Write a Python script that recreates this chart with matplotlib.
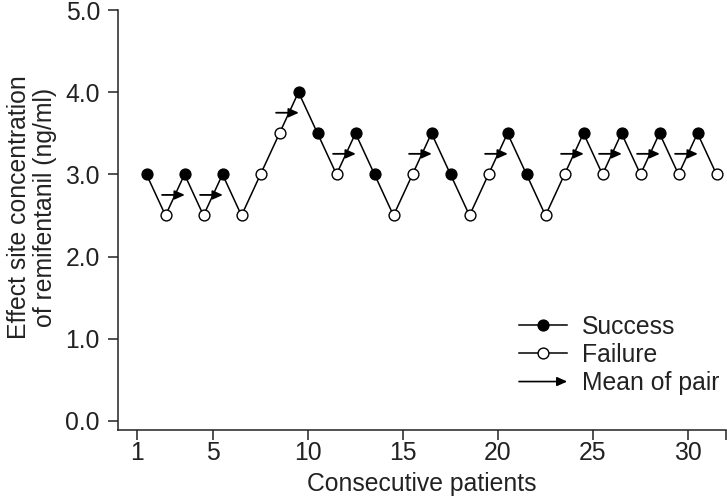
import numpy as np
import matplotlib
matplotlib.use('Agg')
import matplotlib.pyplot as plt
from matplotlib.lines import Line2D
from matplotlib.patches import FancyArrowPatch
from matplotlib.legend_handler import HandlerPatch

plt.rcParams['font.family'] = ['Liberation Sans', 'DejaVu Sans']

# ---- data ----
patients = list(range(1, 32))
concentration = [3.0, 2.5, 3.0, 2.5, 3.0, 2.5, 3.0, 3.5, 4.0, 3.5,
                 3.0, 3.5, 3.0, 2.5, 3.0, 3.5, 3.0, 2.5, 3.0, 3.5,
                 3.0, 2.5, 3.0, 3.5, 3.0, 3.5, 3.0, 3.5, 3.0, 3.5,
                 3.0]
outcome = ['S', 'F', 'S', 'F', 'S', 'F', 'F', 'F', 'S', 'S',
           'F', 'S', 'S', 'F', 'F', 'S', 'S', 'F', 'F', 'S',
           'S', 'F', 'F', 'S', 'F', 'S', 'F', 'S', 'F', 'S',
           'F']
pair_starts = [2, 4, 8, 11, 15, 19, 23, 25, 27, 29]   # failure -> success crossover pairs
x_tick_labels = [1, 5, 10, 15, 20, 25, 30]
y_ticks = [0, 1, 2, 3, 4, 5]

# ---- figure ----
W, H = 727, 501
fig = plt.figure(figsize=(W / 100, H / 100), dpi=100)
ax = fig.add_axes([118 / W, (H - 430) / H, 608 / W, 420 / H])

FS = 17.8
LW = 1.1
TXT = '#222222'

x = np.array(patients)
y = np.array(concentration)
succ = np.array([o == 'S' for o in outcome])

ax.plot(x, y, color='black', lw=LW, zorder=2)

arrow_style = '-|>,head_length=0.6,head_width=0.27'
for p in pair_starts:
    i = patients.index(p)
    ym = (concentration[i] + concentration[i + 1]) / 2
    ax.annotate('', xy=(patients[i + 1] + 0.02, ym), xytext=(patients[i] - 0.18, ym),
                arrowprops=dict(arrowstyle=arrow_style, color='black', lw=1.3,
                                mutation_scale=10, shrinkA=0, shrinkB=0),
                zorder=3)

ax.plot(x[succ], y[succ], 'o', ms=7.8, mfc='black', mec='black', mew=1.0, zorder=4)
ax.plot(x[~succ], y[~succ], 'o', ms=7.8, mfc='white', mec='black', mew=1.0, zorder=4)

ax.set_xlim(-0.5, 31.5)
ax.set_ylim(-0.11, 5.0)
tick_pos = [t - 0.5 for t in x_tick_labels] + [31.5]
ax.set_xticks(tick_pos)
ax.set_xticklabels([str(t) for t in x_tick_labels] + [''])
ax.set_yticks(y_ticks)
ax.set_yticklabels(['%.1f' % v for v in y_ticks])

for s in ['top', 'right']:
    ax.spines[s].set_visible(False)
for s in ['left', 'bottom']:
    ax.spines[s].set_linewidth(1.1)
    ax.spines[s].set_color(TXT)
ax.spines['left'].set_bounds(-0.11, 5.0)

ax.tick_params(axis='both', direction='out', length=7, width=1.1, labelsize=FS,
               colors=TXT)
ax.tick_params(axis='x', pad=1)
ax.tick_params(axis='y', pad=6)

ax.set_xlabel('Consecutive patients', fontsize=FS, labelpad=5, color=TXT)
ax.set_ylabel('Effect site concentration\nof remifentanil (ng/ml)', fontsize=FS,
              color=TXT, linespacing=1.1)
ax.yaxis.set_label_coords(-0.1, 0.53)

# ---- legend ----
h_s = Line2D([], [], color='black', lw=LW, marker='o', ms=7.8, mfc='black', mec='black')
h_f = Line2D([], [], color='black', lw=LW, marker='o', ms=7.8, mfc='white', mec='black')
h_a = FancyArrowPatch((0, 0), (1, 0), arrowstyle=arrow_style, color='black', lw=1.2,
                      mutation_scale=10)


def make_arrow(legend, orig_handle, xdescent, ydescent, width, height, fontsize):
    return FancyArrowPatch((-xdescent, height / 2 - ydescent), (width - xdescent, height / 2 - ydescent),
                           arrowstyle=arrow_style, mutation_scale=10, lw=1.2,
                           color='black', shrinkA=0, shrinkB=0)


leg = ax.legend([h_s, h_f, h_a], ['Success', 'Failure', 'Mean of pair'],
                handler_map={FancyArrowPatch: HandlerPatch(patch_func=make_arrow)},
                loc='center left', bbox_to_anchor=(519 / W, (H - 355) / H),
                bbox_transform=fig.transFigure, frameon=False, fontsize=FS,
                handlelength=1.95, handletextpad=0.6, labelspacing=0.17,
                borderpad=0, borderaxespad=0, numpoints=1)
for t in leg.get_texts():
    t.set_color(TXT)

fig.savefig('out.png', dpi=100)
